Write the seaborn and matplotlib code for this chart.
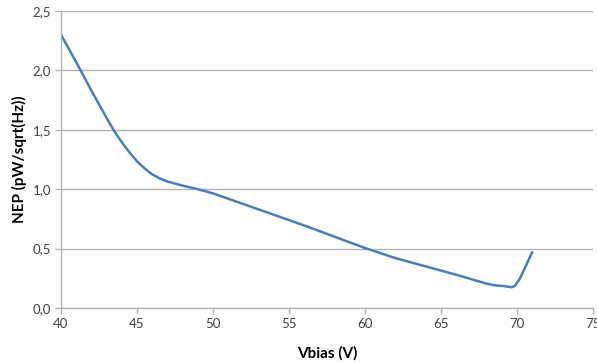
import matplotlib
matplotlib.use("Agg")
import matplotlib.pyplot as plt
import seaborn as sns
import pandas as pd
from matplotlib.ticker import FuncFormatter, MultipleLocator

vbias = [40, 41, 42, 43, 43.5, 44, 44.5, 45, 45.5, 46, 46.5, 47, 48, 49, 50, 52, 54, 56, 58, 60, 62, 64, 66, 68, 68.6, 69.1, 69.65, 69.85, 70.2, 70.6, 71.0]
nep = [2.30, 2.07, 1.83, 1.60, 1.49, 1.395, 1.31, 1.235, 1.175, 1.125, 1.09, 1.065, 1.03, 1.00, 0.965, 0.875, 0.785, 0.695, 0.60, 0.505, 0.42, 0.35, 0.28, 0.205, 0.19, 0.185, 0.175, 0.185, 0.25, 0.36, 0.47]

df = pd.DataFrame({"Vbias": vbias, "NEP": nep})

sns.set_theme(style="white")
plt.rcParams['font.family'] = ['Lato', 'DejaVu Sans']

fig = plt.figure(figsize=(5.97, 3.63), dpi=100)
ax = fig.add_axes([61/597, 1-308/363, 532/597, 297/363])

sns.lineplot(data=df, x="Vbias", y="NEP", ax=ax, color="#4A7EBB", linewidth=1.8)

ax.set_xlim(40, 75)
ax.set_ylim(0, 2.5)
ax.xaxis.set_major_locator(MultipleLocator(5))
ax.yaxis.set_major_locator(MultipleLocator(0.5))
ax.yaxis.set_major_formatter(FuncFormatter(lambda v, p: f"{v:.1f}".replace('.', ',')))
ax.xaxis.set_major_formatter(FuncFormatter(lambda v, p: f"{int(round(v))}"))

ax.grid(axis='y', color='#B3B3B3', linewidth=1.0)
ax.grid(axis='x', visible=False)
ax.set_axisbelow(True)
for s in ['top', 'right']:
    ax.spines[s].set_visible(False)
for s in ['left', 'bottom']:
    ax.spines[s].set_color('#B3B3B3')
    ax.spines[s].set_linewidth(1.0)

ax.tick_params(axis='both', which='major', length=4, width=1, color='#B3B3B3',
               labelsize=9.5, labelcolor='#404040', direction='out', left=True, bottom=True, pad=3)

ax.set_xlabel("Vbias (V)", fontsize=11, fontweight='bold', color='#000000', labelpad=12)
ax.set_ylabel("NEP (pW/sqrt(Hz))", fontsize=11, fontweight='bold', color='#000000', labelpad=4)

fig.savefig("out.png", dpi=100)
